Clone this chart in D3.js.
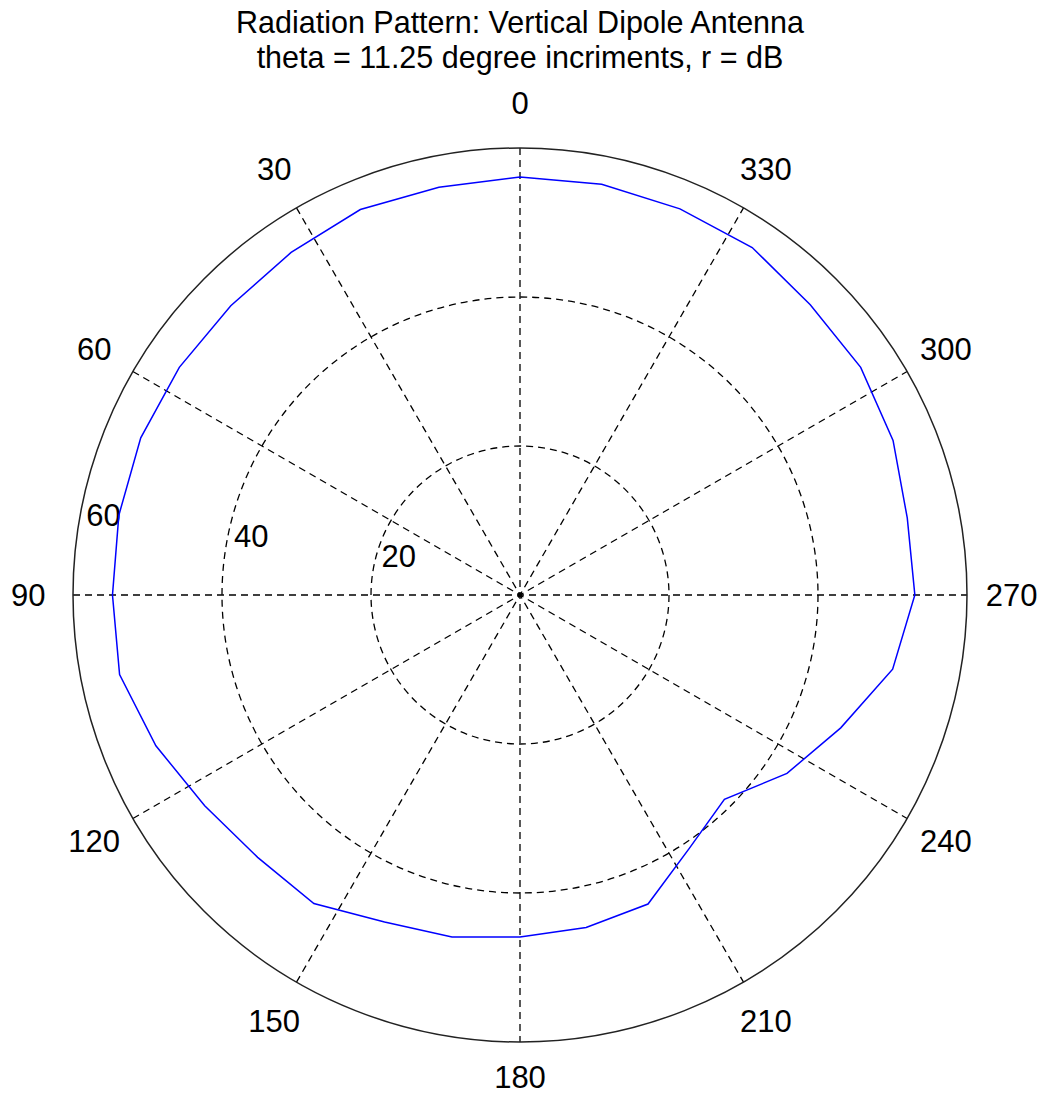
<!DOCTYPE html>
<html lang="en">
<head>
  <meta charset="UTF-8">
  <title>Radiation Pattern</title>
  <script src="https://d3js.org/d3.v7.min.js"></script>
  <style>
    body { margin: 0; background: #fff; }
    svg { display: block; }
    text { font-family: "Liberation Sans", Arial, sans-serif; fill: #000; }
    .grid { fill: none; stroke: #000; stroke-width: 1.3px; stroke-dasharray: 7 5; }
    .outer { fill: none; stroke: #222; stroke-width: 1.5px; }
    .pattern { fill: none; stroke: #0000ff; stroke-width: 1.5px; }
  </style>
</head>
<body>
<svg width="1041" height="1095"></svg>
<script>
// measured angles (deg, counter-clockwise from top) and gain (dB)
const thetaDeg = [0, 11.25, 22.5, 33.75, 45, 56.25, 67.5, 78.75,
                  90, 101.25, 112.5, 123.75, 135, 146.25, 157.5, 168.75,
                  180, 191.25, 202.5, 213.75, 225, 236.25, 247.5, 258.75,
                  270, 281.25, 292.5, 303.75, 315, 326.25, 337.5, 348.75];
const gainDb = [56.1, 55.8, 56.0, 55.3, 54.9, 55.0, 55.1, 54.9,
                54.7, 54.8, 52.9, 50.9, 49.8, 49.8, 47.5, 46.8,
                45.9, 45.5, 44.9, 40.9, 38.8, 43.1, 46.6, 51.0,
                53.0, 53.0, 54.2, 55.0, 55.1, 56.1, 56.1, 56.2];

const spokeAngles = [0, 30, 60, 90, 120, 150, 180, 210, 240, 270, 300, 330];
const ringValues = [20, 40, 60];
const titleLines = ["Radiation Pattern: Vertical Dipole Antenna",
                    "theta = 11.25 degree incriments, r = dB"];

const cx = 520, cy = 595, R = 447;
const rad = Math.PI / 180;

const svg = d3.select("svg");
const g = svg.append("g").attr("transform", `translate(${cx},${cy})`);

const r = d3.scaleLinear().domain([0, 60]).range([0, R]);

// point for angle (ccw from top) and radius value
function px(a, v) { return -r(v) * Math.sin(a * rad); }
function py(a, v) { return -r(v) * Math.cos(a * rad); }

// dashed spokes, one full line per pair of opposite angles
g.append("g")
  .selectAll("line")
  .data(spokeAngles.filter(a => a < 180))
  .join("line")
  .attr("class", "grid")
  .attr("x1", a => px(a, 60)).attr("y1", a => py(a, 60))
  .attr("x2", a => px(a + 180, 60)).attr("y2", a => py(a + 180, 60));

// dashed inner rings
g.append("g")
  .selectAll("circle")
  .data(ringValues.slice(0, -1))
  .join("circle")
  .attr("class", "grid")
  .attr("r", d => r(d));

// solid outer ring
g.append("circle")
  .attr("class", "outer")
  .attr("r", r(60));

g.append("circle").attr("r", 2.5).attr("fill", "#000");

// ring labels sit along the 82 degree direction
g.append("g")
  .selectAll("text")
  .data(ringValues)
  .join("text")
  .attr("x", d => px(82, d) + 9)
  .attr("y", d => py(82, d) - 7)
  .attr("font-size", "31px")
  .text(d => d);

// pattern
const line = d3.lineRadial()
  .angle((d, i) => -thetaDeg[i] * rad)
  .radius(d => r(d))
  .curve(d3.curveLinearClosed);

g.append("path")
  .attr("class", "pattern")
  .attr("d", line(gainDb));

// angle labels at 1.1 * rmax, kept inside the bottom edge
g.append("g")
  .selectAll("text")
  .data(spokeAngles)
  .join("text")
  .attr("x", a => px(a, 66))
  .attr("y", a => Math.min(py(a, 66), 1077 - cy))
  .attr("dy", "0.36em")
  .attr("text-anchor", "middle")
  .attr("font-size", "31px")
  .text(a => a);

// title
svg.append("g")
  .selectAll("text")
  .data(titleLines)
  .join("text")
  .attr("x", cx)
  .attr("y", (d, i) => 33 + i * 35)
  .attr("text-anchor", "middle")
  .attr("font-size", "30.5px")
  .text(d => d);
</script>
</body>
</html>
